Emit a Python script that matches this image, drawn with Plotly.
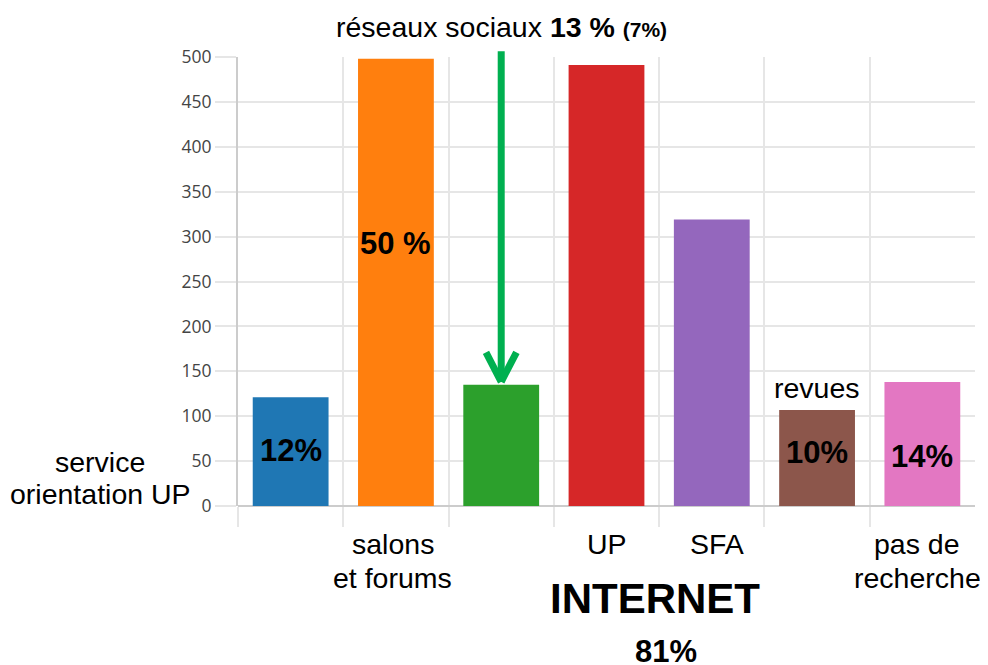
import plotly.graph_objects as go

# Data
categories = ["service orientation UP", "salons et forums", "réseaux sociaux",
              "UP", "SFA", "revues", "pas de recherche"]
values = [121, 498, 135, 491, 319, 107, 138]
colors = ["#1f77b4", "#ff7f0e", "#2ca02c", "#d62728", "#9467bd", "#8c564b", "#e377c2"]
bar_labels = ["12%", "50 %", "", "", "", "10%", "14%"]
y_ticks = list(range(0, 501, 50))

FONT = "Arial, Liberation Sans, sans-serif"
GREEN = "#00b050"
TXT = dict(family=FONT, size=28.5, color="black")

x_idx = list(range(len(categories)))

fig = go.Figure(
    go.Bar(
        x=x_idx,
        y=values,
        marker=dict(color=colors, line=dict(width=0)),
        hoverinfo="skip",
    )
)

# page has an 8px body margin, so the figure is a bit smaller than the window
fig.update_layout(
    width=980,
    height=657,
    margin=dict(l=230, r=13, t=49, b=159),
    paper_bgcolor="white",
    plot_bgcolor="white",
    bargap=0.28,
    showlegend=False,
    xaxis=dict(
        range=[-0.5, 6.5],
        tickvals=[i - 0.5 for i in x_idx],
        showticklabels=False,
        showgrid=True,
        gridcolor="#e6e6e6",
        gridwidth=2,
        ticks="outside",
        ticklen=20,
        tickcolor="#e6e6e6",
        tickwidth=2,
        showline=False,
        zeroline=False,
    ),
    yaxis=dict(
        range=[0, 500],
        tickvals=y_ticks,
        showgrid=True,
        gridcolor="#e6e6e6",
        gridwidth=2,
        ticks="outside",
        ticklen=21,
        tickcolor="#e6e6e6",
        tickwidth=2,
        showline=True,
        linecolor="#cccccc",
        linewidth=2,
        zeroline=True,
        zerolinecolor="#cccccc",
        zerolinewidth=2,
        tickfont=dict(family="Open Sans", size=17.5, color="#444444"),
    ),
)


def label(x, y, text, xref="x", yref="y", font=TXT, **kw):
    return dict(x=x, y=y, xref=xref, yref=yref, text=text, showarrow=False,
                xanchor="center", yanchor="middle", font=font, **kw)


annotations = []

# percentages inside bars
label_y = {0: 62, 1: 292, 5: 60, 6: 55}
big = dict(family=FONT, size=31, color="black")
for i, txt in enumerate(bar_labels):
    if txt:
        annotations.append(label(i, label_y[i], f"<b>{txt}</b>", font=big))

annotations.append(label(5, 131, "revues"))

# category names under the axis (one annotation per line to keep tight spacing)
line1, line2 = -0.0846, -0.1604
annotations += [
    label(-0.187, 0.0980, "service", xref="paper", yref="paper"),
    label(-0.187, 0.0267, "orientation UP", xref="paper", yref="paper"),
    label(1, line1, "salons", yref="paper", xshift=-3),
    label(1, line2, "et forums", yref="paper", xshift=-3),
    label(3, line1, "UP", yref="paper"),
    label(4, line1, "SFA", yref="paper", xshift=5),
    label(6, line1, "pas de", yref="paper", xshift=-5),
    label(6, line2, "recherche", yref="paper", xshift=-5),
    label(0.566, -0.205, "<b>INTERNET</b>", xref="paper", yref="paper",
          font=dict(family=FONT, size=42, color="black")),
    label(0.581, -0.325, "<b>81%</b>", xref="paper", yref="paper",
          font=dict(family=FONT, size=31, color="black")),
    label(2, 1.067, "réseaux sociaux <b>13 %</b> <b><span style='font-size:21px'>(7%)</span></b>",
          yref="paper"),
]

# green arrow pointing at the réseaux sociaux bar
arrow = dict(x=2, y=values[2], xref="x", yref="y", text="", showarrow=True,
             arrowhead=0, arrowwidth=7, arrowcolor=GREEN, standoff=0, yshift=3)
annotations.append(dict(arrow, ax=0, ay=-332))
annotations.append(dict(arrow, ax=-16, ay=-31))
annotations.append(dict(arrow, ax=16, ay=-31))

fig.update_layout(annotations=annotations)

fig.write_html("out.html")
